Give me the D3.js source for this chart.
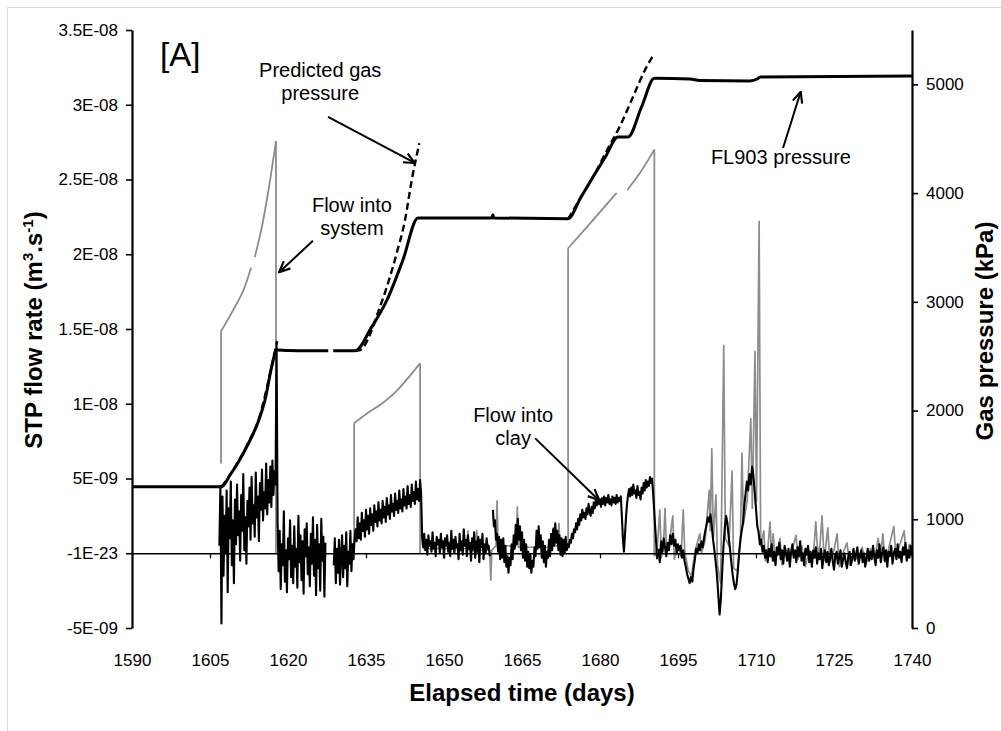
<!DOCTYPE html>
<html><head><meta charset="utf-8">
<script src="https://cdn.jsdelivr.net/npm/d3@7"></script>
<style>
body{margin:0;background:#fff}
svg{display:block}
text{font-family:"Liberation Sans",Arial,sans-serif;fill:#000}
</style>
</head><body>
<svg id="c" width="1001" height="731"></svg>
<script>
// ---------------- DATA ----------------
const xTickVals = [1590,1605,1620,1635,1650,1665,1680,1695,1710,1725,1740];
// left axis in units of 1E-09 m3/s
const leftTickVals = [-5,0,5,10,15,20,25,30,35];
const leftTickLabels = ["-5E-09","-1E-23","5E-09","1E-08","1.5E-08","2E-08","2.5E-08","3E-08","3.5E-08"];
const rightTickVals = [0,1000,2000,3000,4000,5000];

// FL903 gas pressure (kPa) [day, kPa]
const gasA = [[1590,1300],[1607.25,1300],[1608.85,1407],[1610.5,1530],[1612.06,1667],[1614.62,1943],[1615.58,2097],[1616.87,2403],[1617.83,2557],[1620,2552],[1624,2550],[1627.75,2550]];
const gasB = [[1628.7,2550],[1632.9,2550],[1636,2760],[1639.04,3017],[1642.1,3385],[1645.0,3771],[1652,3771],[1659.2,3771],[1659.4,3800],[1659.6,3771],[1673.85,3765],[1676.3,3960],[1678.65,4148],[1681,4330],[1683.46,4516],[1685.4,4516],[1688,4794],[1690.45,5056],[1697.3,5049],[1699.2,5035],[1708.8,5031],[1710.2,5049],[1710.8,5068],[1740,5077]];

// Predicted gas pressure (kPa)
const predA = [[1607.25,1300],[1609,1420],[1612,1670],[1614.5,1940],[1616.5,2330],[1617.9,2640]];
const predB = [[1632.9,2550],[1633.85,2557],[1637.7,2955],[1640.9,3446],[1642.5,3752],[1643.8,4120],[1645.25,4458]];
const predC = [[1673.85,3761],[1676.3,3960],[1678.7,4151],[1681.3,4390],[1683.85,4617],[1686.3,4880],[1688.65,5132],[1690.45,5285]];

// Flow into system (1E-09 m3/s): smooth pressurisation curves [day, value]
const sysA = [[1607.12,14.85],[1609.42,16.25],[1611.73,17.86],[1612.9,19.1]];
const sysB = [[1613.6,19.8],[1615.0,21.87],[1616.15,24.08],[1617.69,27.56]];
const sysC = [[1632.72,8.7],[1635,9.3],[1638,10.0],[1641,10.9],[1643.5,11.9],[1645.4,12.7]];
const sysE = [[1673.87,20.4],[1678.1,22.07],[1683.2,24.1]];
const sysF = [[1685.25,24.3],[1687.8,25.5],[1690.45,27.0]];
// vertical steps of flow into system: [day, from, to]
const sysSteps = [[1607.12,6.0,14.85],[1617.69,27.56,0.0],[1632.72,0.0,8.7],[1645.4,12.7,0.0],[1673.87,0.5,20.4],[1690.45,27.0,-0.2]];
// noisy parts of flow into system
const sysD = [[1646,0.3],[1654.4,0.3],[1654.6,1.5],[1654.8,0.2],[1656.1,0.3],[1656.3,1.5],[1656.5,0.2],[1658.8,0.2],[1659.0,-1.8],[1659.2,0.2],[1660.0,0.5],[1660.2,3.5],[1660.4,0.5],[1663.9,0.5],[1664.1,3.1],[1664.3,0.4],[1670.8,0.4],[1671.0,1.7],[1671.2,0.5],[1671.9,0.5],[1672.1,2.0],[1672.3,0.5],[1673.8,0.5]];
const sysG = [[1690.5,-0.2],[1691.0,0.3],[1691.5,2.9],[1691.8,-0.3],[1692.2,0.4],[1692.5,3.0],[1692.8,0.0],[1693.3,0.6],[1694.0,2.5],[1694.3,-0.4],[1695.0,0.5],[1695.6,-0.2],[1696.0,2.9],[1696.3,0.1],[1697.0,-1.2],[1697.6,-1.5],[1698.3,0.2],[1699.2,1.3],[1699.5,0.0],[1700.2,0.8],[1701.0,4.2],[1701.2,1.5],[1701.5,7.0],[1701.8,1.0],[1702.3,3.9],[1702.6,-0.8],[1703.2,-2.0],[1703.8,13.9],[1704.1,1.0],[1704.8,0.5],[1705.4,5.5],[1705.7,-1.0],[1706.4,-1.2],[1707.0,0.8],[1707.3,6.7],[1707.6,2.0],[1708.3,3.5],[1709.0,9.0],[1709.3,3.0],[1709.8,13.5],[1710.1,3.5],[1710.6,22.2],[1710.9,0.5],[1711.5,1.5],[1711.8,-0.5],[1712.3,0.4],[1712.7,2.1],[1713.0,-0.3],[1713.3,1.3],[1713.7,-0.6],[1714.2,0.3],[1714.6,1.0],[1715.0,-0.8],[1715.6,0.4],[1716.2,-0.5],[1717.0,0.3],[1717.7,1.2],[1718.1,-0.4],[1718.8,0.5],[1719.5,-0.9],[1720.2,0.2],[1721.0,-0.3],[1721.5,2.1],[1721.9,-0.2],[1722.3,0.5],[1722.7,2.5],[1723.1,-0.5],[1723.8,1.7],[1724.2,-0.6],[1725.0,0.2],[1725.6,1.3],[1726.0,-0.9],[1726.8,0.1],[1727.5,0.7],[1728.0,-0.8],[1728.8,0.2],[1729.6,-0.5],[1730.4,0.4],[1731.2,-0.7],[1732.0,0.3],[1732.8,-0.4],[1733.5,1.0],[1733.9,-0.3],[1734.4,1.3],[1734.8,-0.6],[1735.5,0.3],[1736.5,1.8],[1736.9,-0.2],[1737.6,0.5],[1738.5,1.5],[1738.9,-0.4],[1739.5,0.6],[1740,0.2]];

// Flow into clay (1E-09 m3/s), sampled every step days from each start day
const clayAStart = 1606.8, clayAStep = 0.2;
const clayA = [0.5,4.5,-4.7,3.8,-1.5,2.5,0.0,4.2,-2.6,3.0,1.0,4.8,-0.8,2.2,-2.0,3.6,0.6,4.6,1.2,2.8,-0.5,3.9,1.5,5.3,0.2,2.4,-0.7,3.5,1.8,4.4,0.9,5.1,2.0,3.2,1.1,5.4,2.4,3.8,0.8,4.7,2.9,5.6,2.2,4.1,3.0,6.0,2.6,4.9,3.4,5.8,3.1,6.2,3.9,5.5,4.6,14.0,2.0,
 -1.2,1.5,-2.4,0.6,-0.8,2.8,-1.9,0.2,-2.6,1.0,-0.4,2.2,-1.6,0.5,-2.0,1.8,-0.9,0.3,-2.3,2.5,-0.6,1.2,-1.8,0.8,-2.7,1.6,-0.2,2.0,-1.4,0.4,-2.2,1.3,-0.7,2.4,-1.5,0.9,-2.8,1.9,-1.0,0.6,-2.5,2.3,-0.5,1.1,-2.9,0.7];
const clayBStart = 1628.8, clayBStep = 0.2;
const clayB = [-0.8,1.0,-2.0,0.3,-1.3,0.9,-2.1,-0.2,1.2,-1.6,0.5,-1.0,1.4,-2.2,0.1,-0.7,1.5,-1.2,0.6,-0.4,1.0,
 1.6,0.8,2.4,1.0,2.0,0.9,2.7,1.5,2.2,1.1,2.9,1.6,2.5,1.3,3.0,1.9,2.6,1.5,3.2,2.1,2.8,1.8,3.4,2.2,2.9,2.0,3.5,2.4,3.1,2.1,3.7,2.6,3.2,2.3,3.9,2.8,3.3,2.5,4.0,2.9,3.5,2.7,4.2,3.0,3.6,2.8,4.3,3.2,3.8,3.0,4.5,3.3,3.9,3.1,4.6,3.5,4.1,3.3,4.8,3.6,4.3,3.5,4.9,4.0,
 1.0,0.4,1.3,0.2,0.9,-0.1,1.2,0.5,0.8,0.1,1.4,0.3,0.7,-0.2,1.1,0.6,0.9,0.0,1.3,0.4,0.8,-0.3,1.0,0.5,1.2,0.1,0.7,-0.2,1.5,0.3,0.9,0.0,1.1,0.4,0.6,-0.4,1.3,0.2,0.8,-0.1,1.6,0.5,0.9,-0.2,1.2,0.3,0.7,-0.5,1.0,0.2,1.4,-0.3,0.8,0.1,1.1,-0.6,0.9,0.4,1.3,-0.4,0.6,0.0,1.0,0.3,0.5,-0.2];
const clayCStart = 1659.4, clayCStep = 0.2;
const clayC = [2.9,1.8,2.2,0.9,1.3,0.1,1.1,-0.4,0.9,-0.3,1.0,-0.6,0.5,-0.9,-0.2,-1.3,-0.3,-0.8,0.6,-0.4,1.2,0.3,1.9,0.6,2.3,0.9,1.8,0.2,1.4,-0.3,0.9,-0.5,0.6,-0.9,0.1,-1.0,-0.1,-1.3,-0.5,-0.9,0.4,-0.2,1.5,0.3,1.8,0.4,1.2,-0.3,0.8,-0.6,0.5,-0.9,0.1,-0.3,0.9,-0.2,1.3,0.2,1.6,0.5,2.0,0.7,1.5,0.2,1.2,-0.1,1.0,-0.2,0.9,0.0,1.1,0.2,0.6,
 0.4,0.9,0.7,1.3,1.0,1.6,1.4,2.0,1.6,2.3,1.9,2.6,2.2,2.9,2.4,2.7,2.3,3.0,2.6,3.3,2.8,2.5,3.1,2.7,3.4,3.0,3.6,3.2,3.8,3.3,3.6,3.1,3.7,3.3,3.8,3.2,3.7,3.4,3.9,3.3,3.6,3.2,3.8,3.4,3.7,3.3,3.9,3.4,3.7,3.5,3.8,2.5,1.0,0.1,1.2,2.4,3.3,3.9,4.3,3.8,4.4,3.9,4.6,4.0,4.2,3.7,4.5,3.9,4.1,3.6,4.4,4.0,4.7,4.2,4.9,4.4,4.8,4.5,5.1,4.7,5.0,4.1,3.0,1.8,0.7,-0.4];
const clayDStart = 1691.25, clayDStep = 0.25;
const clayD = [0.3,-0.6,0.8,0.1,1.0,0.4,-0.2,0.7,0.2,1.2,0.6,1.3,0.5,0.9,0.0,0.6,0.2,0.5,-0.3,0.2,
 -0.5,-0.9,-1.4,-1.7,-2.0,-1.6,-1.9,-1.0,-0.4,0.3,0.0,0.6,0.2,0.8,0.4,1.0,1.5,1.9,2.4,2.1,
 2.6,1.8,0.9,0.2,-0.6,-1.5,-2.8,-4.1,-3.0,-1.2,0.5,1.7,2.5,2.0,1.1,0.3,-0.6,-1.4,-2.0,-2.4,
 -2.1,-1.2,0.0,0.9,1.5,2.0,3.2,4.0,4.8,4.2,5.3,4.6,5.8,5.2,4.1,3.0,1.8,1.4,0.6,0.9,0.1,0.5,-0.3,0.2,
 -0.6,0.3,-0.2,0.6,-0.5,0.1,-0.8,0.4,-0.1,0.7,-0.4,0.2,-0.7,0.5,0.0,-0.5,0.3,-0.9,0.1,0.6,
 -0.3,0.2,-0.6,0.4,-0.2,0.8,-0.5,0.0,-0.8,0.3,-0.1,0.5,-0.6,0.1,-0.9,0.2,-0.3,0.4,-0.7,0.0,
 -0.4,0.3,-1.0,-0.2,0.2,-0.6,0.1,-0.8,-0.3,0.3,-0.5,-1.1,-0.2,0.1,-0.7,-0.3,0.2,-0.9,-0.4,0.0,
 -0.6,-1.0,-0.2,0.1,-0.8,-0.4,0.3,-0.5,-0.1,0.4,-0.7,-0.2,0.2,-0.6,0.0,-0.9,-0.3,0.3,-0.5,0.1,
 -0.4,0.5,-0.2,-0.8,0.2,-0.3,0.6,-0.6,0.0,0.4,-0.5,0.2,-0.9,0.1,-0.2,0.5,-0.7,0.0,0.3,-0.4,
 0.6,-0.3,0.1,-0.6,0.4,-0.1,0.7,-0.5,0.2,-0.3,0.5,-0.2];

// annotations: text lines anchored at [day, value] on an axis; arrows from -> to
const labelTexts = [["Predicted gas","pressure"],["Flow into","system"],["Flow into","clay"],["FL903 pressure"]];
const labelAnchors = [{d:1626.2,v:5068,ax:"R"},{d:1632.3,v:22.8,ax:"L"},{d:1663.3,v:8.76,ax:"L"},{d:1714.8,v:4267,ax:"R"}];
const arrowFrom = [{d:1627.7,v:4700,ax:"R"},{d:1624.8,v:20.9,ax:"L"},{d:1667.5,v:7.7,ax:"L"},{d:1715.2,v:4415,ax:"R"}];
const arrowTo   = [{d:1644.4,v:4277,ax:"R"},{d:1618.3,v:18.8,ax:"L"},{d:1679.8,v:3.55,ax:"L"},{d:1718.6,v:4932,ax:"R"}];
const panelLabel = {text:"[A]", d:1595.4, v:5170};

// ---------------- CHART ----------------
const W=1001,H=731;
const M={left:132,right:912,top:30,bottom:628};
const svg=d3.select("#c");
const x=d3.scaleLinear().domain([1590,1740]).range([M.left,M.right]);
const yL=d3.scaleLinear().domain([-5,35]).range([M.bottom,M.top]);
const yR=d3.scaleLinear().domain([0,5500]).range([M.bottom,M.top]);
const Y = a => a.ax==="L"? yL(a.v): yR(a.v);

svg.append("path").attr("d",`M7.5,${H}V7.5H${W}`).attr("fill","none").attr("stroke","#d9d9d9").attr("stroke-width",1);

const expand=(start,step,vals)=>vals.map((v,i)=>[start+i*step,v]);
const lineL=d3.line().x(d=>x(d[0])).y(d=>yL(d[1]));
const curveL=d3.line().x(d=>x(d[0])).y(d=>yL(d[1])).curve(d3.curveMonotoneX);
const curveR=d3.line().x(d=>x(d[0])).y(d=>yR(d[1])).curve(d3.curveMonotoneX);
const GREY="#8c8c8c";

// flow into system (grey)
[sysA,sysB,sysC,sysE,sysF].forEach(s=>svg.append("path").attr("d",curveL(s))
  .attr("fill","none").attr("stroke",GREY).attr("stroke-width",1.8));
svg.selectAll("line.step").data(sysSteps).join("line").attr("class","step")
  .attr("x1",d=>x(d[0])).attr("x2",d=>x(d[0])).attr("y1",d=>yL(d[1])).attr("y2",d=>yL(d[2]))
  .attr("stroke",GREY).attr("stroke-width",1.8);
[sysD,sysG].forEach(s=>svg.append("path").attr("d",lineL(s))
  .attr("fill","none").attr("stroke",GREY).attr("stroke-width",1.7).attr("stroke-linejoin","round"));

// x axis at zero
const gx=svg.append("g").attr("transform",`translate(0,${yL(0)})`)
  .call(d3.axisBottom(x).tickValues(xTickVals).tickSize(5).tickSizeOuter(0).tickFormat(""));
gx.select(".domain").attr("stroke-width",1.6);
gx.selectAll(".tick line").attr("stroke-width",1.3);

// flow into clay (black)
[expand(clayAStart,clayAStep,clayA),expand(clayBStart,clayBStep,clayB),expand(clayCStart,clayCStep,clayC),expand(clayDStart,clayDStep,clayD)]
 .forEach(s=>svg.append("path").attr("d",lineL(s)).attr("fill","none").attr("stroke","#000").attr("stroke-width",2.1).attr("stroke-linejoin","round"));

// gas pressure
[gasA,gasB].forEach(s=>svg.append("path").attr("d",curveR(s)).attr("fill","none").attr("stroke","#000").attr("stroke-width",3).attr("stroke-linejoin","round"));
[predA,predB,predC].forEach(s=>svg.append("path").attr("d",curveR(s)).attr("fill","none").attr("stroke","#000").attr("stroke-width",2.4).attr("stroke-dasharray","7,4"));

// axes
const gl=svg.append("g").attr("transform",`translate(${M.left},0)`)
  .call(d3.axisLeft(yL).tickValues(leftTickVals).tickFormat((d,i)=>leftTickLabels[i]).tickSize(6).tickSizeOuter(0).tickPadding(8));
const gr=svg.append("g").attr("transform",`translate(${M.right},0)`)
  .call(d3.axisRight(yR).tickValues(rightTickVals).tickFormat(d3.format("d")).tickSize(6).tickSizeOuter(0).tickPadding(8));
const gb=svg.append("g").attr("transform",`translate(0,${M.bottom})`)
  .call(d3.axisBottom(x).tickValues(xTickVals).tickSize(0).tickPadding(26).tickFormat(d3.format("d")));
gb.select(".domain").remove();
[gl,gr,gb].forEach(g=>{
  g.attr("font-family",null).attr("font-size",null);
  g.select(".domain").attr("stroke-width",2.2);
  g.selectAll(".tick line").attr("stroke-width",1.6);
  g.selectAll("text").attr("font-size",17).attr("fill","#000");
});

// axis titles
svg.append("text").attr("x",522).attr("y",701).attr("text-anchor","middle")
  .attr("font-size",24).attr("font-weight","bold").text("Elapsed time (days)");
const lt=svg.append("text").attr("transform","translate(42,330) rotate(-90)").attr("text-anchor","middle")
  .attr("font-size",24).attr("font-weight","bold");
lt.append("tspan").text("STP flow rate (m");
lt.append("tspan").attr("font-size",15).attr("dy",-9).text("3");
lt.append("tspan").attr("dy",9).text(".s");
lt.append("tspan").attr("font-size",15).attr("dy",-9).text("-1");
lt.append("tspan").attr("dy",9).text(")");
svg.append("text").attr("transform","translate(993,331) rotate(-90)").attr("text-anchor","middle")
  .attr("font-size",24).attr("font-weight","bold").text("Gas pressure (kPa)");

// annotations
svg.append("text").attr("x",x(panelLabel.d)).attr("y",yR(panelLabel.v)).attr("font-size",33).text(panelLabel.text);
const defs=svg.append("defs");
defs.append("marker").attr("id","ah").attr("viewBox","0 0 12 12").attr("refX",11).attr("refY",6)
  .attr("markerWidth",13).attr("markerHeight",13).attr("markerUnits","userSpaceOnUse").attr("orient","auto")
  .append("path").attr("d","M1,1.5L11,6L1,10.5").attr("fill","none").attr("stroke","#000").attr("stroke-width",2);
labelTexts.forEach((lines,i)=>{
  const a=labelAnchors[i];
  const t=svg.append("text").attr("x",x(a.d)).attr("y",Y(a)).attr("text-anchor","middle").attr("font-size",20);
  lines.forEach((s,j)=>t.append("tspan").attr("x",x(a.d)).attr("dy",j?23:0).text(s));
  svg.append("line").attr("x1",x(arrowFrom[i].d)).attr("y1",Y(arrowFrom[i]))
    .attr("x2",x(arrowTo[i].d)).attr("y2",Y(arrowTo[i])).attr("stroke","#000").attr("stroke-width",2).attr("marker-end","url(#ah)");
});
</script>
</body></html>
